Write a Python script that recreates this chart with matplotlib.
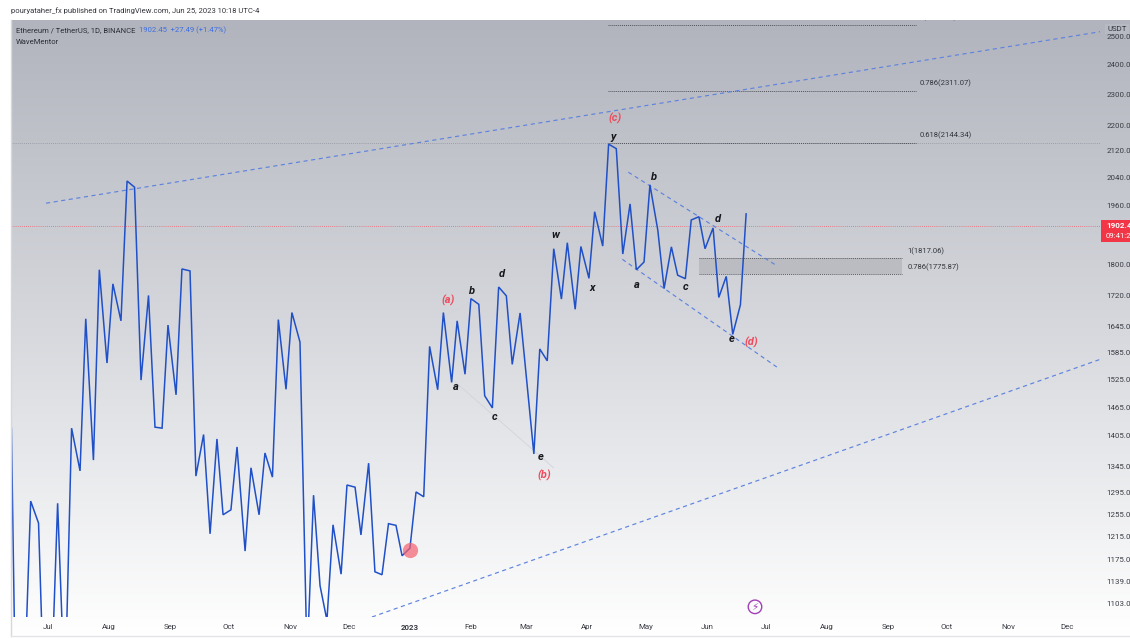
import numpy as np
import pandas as pd
import matplotlib
matplotlib.use('Agg')
import matplotlib.pyplot as plt
from matplotlib.colors import LinearSegmentedColormap
from matplotlib.patches import Rectangle
from matplotlib.ticker import NullLocator

plt.rcParams['font.family'] = ['Roboto', 'DejaVu Sans']

W, H = 1130, 638
START = pd.Timestamp('2022-07-01')

# line series: days after START, close price
days = [-18.6, -16.5, -12.2, -8.8, -4.8, -2, 1.5, 4.9, 8.6, 12,
        16.3, 19.2, 23.1, 26.1, 30, 33, 37.1, 40.2, 44, 47.3,
        51.1, 54.4, 58, 61, 65.1, 68.1, 72.2, 75.2, 79.1, 82.4,
        85.9, 89, 93, 96.1, 100.2, 103.2, 107.3, 110.3, 114.1, 117.1,
        121, 124, 128.1, 131.7, 135, 138.3, 141.8, 144.9, 149, 152,
        156.1, 159.1, 163, 166.2, 169.8, 173.1, 176.9, 180, 184, 187.1,
        191, 194, 198.1, 201, 205.2, 208, 212, 215, 219, 222,
        225.9, 229.1, 233, 236, 240, 247, 250, 253.8, 257.1, 261,
        264, 268, 270.9, 275, 277.9, 282, 285, 288.9, 292.2, 295.9,
        299.1, 303, 306, 310, 313.2, 316.9, 320.1, 324, 327, 330.9,
        334, 338.1, 341, 344.8, 348.1, 352, 354.9]
prices = [1421, 960, 960, 1279, 1239, 960, 960, 1275, 960, 1421,
          1336, 1664, 1357, 1786, 1561, 1750, 1659, 2030, 2012, 1523,
          1721, 1423, 1421, 1649, 1491, 1788, 1783, 1326, 1408, 1220,
          1399, 1254, 1263, 1383, 1190, 1342, 1254, 1371, 1324, 1662,
          1503, 1679, 1609, 1017, 1290, 1132, 1077, 1236, 1151, 1309,
          1305, 1218, 1351, 1155, 1150, 1238, 1235, 1182, 1195, 1296,
          1287, 1599, 1502, 1679, 1518, 1659, 1536, 1713, 1699, 1489,
          1463, 1742, 1720, 1558, 1678, 1369, 1593, 1566, 1841, 1712,
          1857, 1687, 1847, 1764, 1942, 1848, 2141, 2127, 1827, 1964,
          1786, 1806, 2019, 1891, 1738, 1846, 1772, 1763, 1919, 1928,
          1841, 1897, 1716, 1769, 1627, 1698, 1936]

ytick_values = [2500, 2400, 2300, 2200, 2120, 2040, 1960, 1800, 1720, 1645, 1585, 1525,
                1465, 1405, 1345, 1295, 1255, 1215, 1175, 1139, 1103]
month_dates = ['2022-07-01', '2022-08-01', '2022-09-01', '2022-10-01', '2022-11-01', '2022-12-01',
               '2023-01-01', '2023-02-01', '2023-03-01', '2023-04-01', '2023-05-01', '2023-06-01',
               '2023-07-01', '2023-08-01', '2023-09-01', '2023-10-01', '2023-11-01', '2023-12-01']
month_labels = ['Jul', 'Aug', 'Sep', 'Oct', 'Nov', 'Dec', '2023', 'Feb', 'Mar', 'Apr', 'May', 'Jun',
                'Jul', 'Aug', 'Sep', 'Oct', 'Nov', 'Dec']

# drawn lines: (day, price) end points
channel_days = [[-1, 534.8], [164.7, 535.3], [295, 370], [292, 370.5]]
channel_prices = [[1966, 2518], [1082, 1570], [2056, 1798], [1813, 1552]]
faint_days = [[201.8, 238], [207, 257]]
faint_prices = [[1671, 1763], [1519, 1342]]

last_price = 1902.45
fib_prices = [2542, 2311.07, 2144.34]
fib_labels = ['1(2543.07)', '0.786(2311.07)', '0.618(2144.34)']
fib_days = [284.7, 441.1]
box_days = [331, 434.3]
box_prices = [1775.87, 1817.06]

wave_labels = ['a', 'b', 'c', 'd', 'e', 'w', 'x', 'y', 'a', 'b', 'c', 'd', 'e']
wave_days = [207.3, 215.6, 227.1, 230.7, 250.3, 257.8, 276.4, 287.4, 299.4, 308.2, 324.2, 340.3, 347.4]
wave_prices = [1508, 1732, 1445, 1774, 1363, 1878, 1739, 2162, 1747, 2043, 1743, 1922, 1616]
red_labels = ['(a)', '(b)', '(c)', '(d)']
red_days = [203.2, 252.3, 288.3, 357.4]
red_prices = [1708, 1328, 2223, 1609]


def to_dates(d):
    return START + pd.to_timedelta(np.asarray(d, dtype=float), unit='D')


def box(x0, y0, x1, y1):
    # pixel box (y from top) to figure fractions
    return [x0 / W, 1 - y1 / H, (x1 - x0) / W, (y1 - y0) / H]


fig = plt.figure(figsize=(W / 100, H / 100), dpi=100, facecolor='white')

# panel gradient
bg = fig.add_axes(box(11, 20, W, 636), zorder=0)
cmap = LinearSegmentedColormap.from_list('panel', ['#b1b4bd', '#d6d8dd', '#ffffff'])
bg.imshow(np.linspace(0, 1, 256).reshape(-1, 1), aspect='auto', cmap=cmap, vmin=0, vmax=1)
bg.axis('off')
fig.add_artist(plt.Line2D([11 / W, 11 / W], [1 - 20 / H, 1 - 636 / H], color='#d8d8dc', lw=1))
fig.add_artist(plt.Line2D([11 / W, 1], [1 - 636 / H, 1 - 636 / H], color='#e4e4e8', lw=1))

ax = fig.add_axes(box(11, 20, 1101, 617), zorder=1)
ax.patch.set_alpha(0)
ax.set_yscale('log')
ax.set_ylim(1082, 2561)
ax.set_xlim(to_dates([-18.8])[0], to_dates([535.3])[0])
for s in ax.spines.values():
    s.set_visible(False)

# full width levels
ax.axhline(fib_prices[2], color='#8f929b', lw=0.6, ls=(0, (1, 1.5)), zorder=1)
ax.axhline(last_price, color='#f0606c', lw=0.6, ls=(0, (1, 1.5)), zorder=1)

# fib levels
for p in fib_prices:
    ax.plot(to_dates(fib_days), [p, p], color='#50525a', lw=0.7, ls=(0, (1, 1)), zorder=2)
ax.fill_between(to_dates(box_days), box_prices[0], box_prices[1], color='#b4b6bb', alpha=0.75, lw=0, zorder=2)
for p in box_prices:
    ax.plot(to_dates(box_days), [p, p], color='#5a5c64', lw=0.7, ls=(0, (1, 1)), zorder=2)

for d, p in zip(faint_days, faint_prices):
    ax.plot(to_dates(d), p, color='#d2d4dc', lw=0.6, zorder=2)
for d, p in zip(channel_days, channel_prices):
    ax.plot(to_dates(d), p, color='#5f83de', lw=0.85, ls=(0, (3.5, 3)), zorder=3)

ax.plot(to_dates(days), prices, color='#2050c8', lw=1.1, solid_joinstyle='miter', zorder=4)

# pink marker at the start of the year, and the lightning mark
ax.scatter(to_dates([184]), [1192], s=120, color='#f4606f', alpha=0.7, lw=0, zorder=5)
ax.scatter(to_dates([359.4]), [1098], s=95, facecolor='none', edgecolor='#a040b8', lw=1.0, zorder=5)
ax.text(to_dates([359.4])[0], 1098, '\u26a1', color='#a040b8', fontsize=7.5, ha='center', va='center',
        family='DejaVu Sans', zorder=6)

for t, d, p in zip(wave_labels, wave_days, wave_prices):
    ax.text(to_dates([d])[0], p, t, color='#16171c', fontsize=8, style='italic', weight='bold',
            ha='center', va='center', zorder=6)
for t, d, p in zip(red_labels, red_days, red_prices):
    ax.text(to_dates([d])[0], p, t, color='#ef4a5c', fontsize=8, style='italic', weight='bold',
            ha='center', va='center', zorder=6)

# fib labels sit a little above their level
for t, p in zip(fib_labels, fib_prices):
    ax.annotate(t, (to_dates([fib_days[1]])[0], p), xytext=(3, 5.4), textcoords='offset points',
                fontsize=5.5, color='#33353c', va='center', annotation_clip=False, clip_on=True)
ax.annotate('1(1817.06)', (to_dates([box_days[1]])[0], box_prices[1]), xytext=(3.5, 5), textcoords='offset points',
            fontsize=5.5, color='#33353c', va='center')
ax.annotate('0.786(1775.87)', (to_dates([box_days[1]])[0], box_prices[0]), xytext=(3.5, 5), textcoords='offset points',
            fontsize=5.5, color='#33353c', va='center')

ax.set_yticks(ytick_values)
ax.set_yticklabels(['%.2f' % v for v in ytick_values])
ax.yaxis.set_minor_locator(NullLocator())
ax.yaxis.tick_right()
ax.tick_params(axis='y', length=0, pad=4, labelsize=5.7, labelcolor='#3a3c44')
ax.set_xticks(pd.to_datetime(month_dates))
ax.set_xticklabels(month_labels)
ax.tick_params(axis='x', length=0, pad=5, labelsize=5.7, labelcolor='#3a3c44')
ax.get_xticklabels()[6].set_fontweight('bold')

# header and legend
fig.text(11 / W, 1 - 11 / H, 'pouryataher_fx published on TradingView.com, Jun 25, 2023 10:18 UTC-4',
         fontsize=5.5, color='#33353c', va='center')
fig.text(16 / W, 1 - 30 / H, 'Ethereum / TetherUS, 1D, BINANCE', fontsize=5.5, color='#2c2e36', va='center')
fig.text(139 / W, 1 - 30 / H, '1902.45  +27.49 (+1.47%)', fontsize=5.5, color='#3f6fe0', va='center')
fig.text(16 / W, 1 - 42 / H, 'WaveMentor', fontsize=5.5, color='#2c2e36', va='center')

# price scale tags
fig.text(1107 / W, 1 - 29 / H, 'USDT', fontsize=5.7, color='#33353c', va='center', zorder=10,
         bbox=dict(facecolor='#b7bac3', edgecolor='none', pad=1.5))
fig.add_artist(Rectangle((1101 / W, 1 - 242 / H), 29 / W, 22 / H, transform=fig.transFigure,
                         facecolor='#f23645', edgecolor='none', zorder=10))
fig.text(1106 / W, 1 - 226 / H, '1902.45', fontsize=5.8, weight='bold', color='white', va='center', zorder=11)
fig.text(1106 / W, 1 - 236.5 / H, '09:41:23', fontsize=5.6, color='white', va='center', zorder=11)

fig.savefig('out.png', dpi=100)
